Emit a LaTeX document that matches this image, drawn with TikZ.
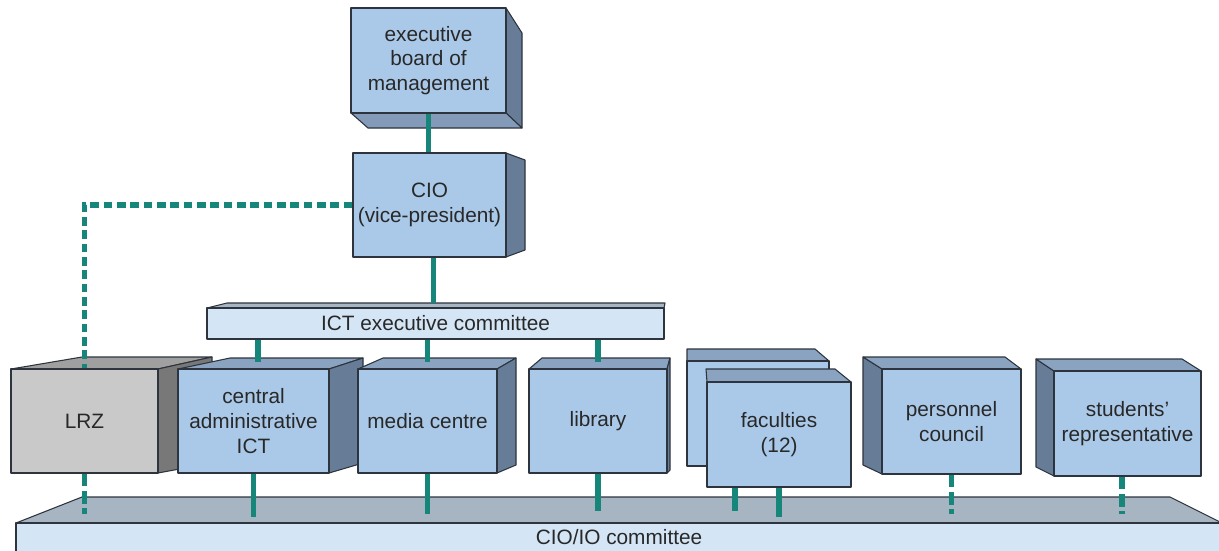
\documentclass[tikz,border=0pt]{standalone}
\usepackage{fontspec}
\setmainfont{Liberation Sans}
\usetikzlibrary{calc}

\definecolor{frontblue}{RGB}{170,201,232}
\definecolor{sideblue}{RGB}{103,125,151}
\definecolor{topblue}{RGB}{138,163,192}
\definecolor{barfront}{RGB}{212,230,246}
\definecolor{bartop}{RGB}{167,181,195}
\definecolor{grayfront}{RGB}{201,201,201}
\definecolor{graytop}{RGB}{160,160,160}
\definecolor{grayside}{RGB}{120,120,120}
\definecolor{edge}{RGB}{45,52,62}
\definecolor{linkteal}{RGB}{22,134,122}
\definecolor{txt}{RGB}{40,40,40}

\newcommand\orgfont{\fontsize{15.6}{18.5}\selectfont}
% front face of a block: [options]{x1}{y1}{x2}{y2}{name}{text}
\newcommand\frontbox[7][]{%
  \node[front,#1,minimum width={(#4-#2)*0.75pt},minimum height={(#5-#3)*0.75pt}]
    (#6) at ({(#2+#4)/2},{(#3+#5)/2}) {#7};}

\begin{document}
\begin{tikzpicture}[x=0.75pt,y=-0.75pt,
  face/.style={draw=edge,line width=0.8pt,line join=round},
  sideface/.style={face,fill=sideblue},
  topface/.style={face,fill=topblue},
  front/.style={face,fill=frontblue,text=txt,align=center,inner sep=0pt,font=\orgfont},
  link/.style={draw=linkteal,line width=4.3pt},
  dlink/.style={link,dash pattern=on 6.5pt off 3.5pt},
  dlinklow/.style={link,dash pattern=on 9.5pt off 3.5pt}]
\useasboundingbox (0,0) rectangle (1219,550);
\clip (0,0) rectangle (1219,550);

% CIO/IO committee slab
\draw[face,fill=bartop] (16,523) -- (82,497) -- (1170,497) -- (1222,523) -- cycle;
\frontbox[fill=barfront]{16}{523}{1222}{559}{cioio}{}
\node[text=txt,font=\orgfont,inner sep=0pt] (cioiolabel) at (619,537) {CIO/IO committee};

% ICT executive committee slab
\draw[face,fill=bartop] (207,308) -- (227,303) -- (665,303) -- (664,308) -- cycle;
\frontbox[fill=barfront]{207}{308}{664}{339}{ict}{ICT executive committee}

% executive board of management
\draw[sideface] (506,8) -- (522,33) -- (522,128) -- (506,113) -- cycle;
\draw[sideface,fill=topblue!80!sideblue] (351,113) -- (368,128) -- (522,128) -- (506,113) -- cycle;
\frontbox{351}{8}{506}{113}{exec}{executive\\board of\\management}

% CIO
\draw[sideface] (506,153) -- (525,160) -- (525,250) -- (506,257) -- cycle;
\frontbox{353}{153}{506}{257}{cio}{CIO\\(vice-president)}

% LRZ
\draw[face,fill=graytop] (11,369) -- (82,357) -- (212,357) -- (158,369) -- cycle;
\draw[face,fill=grayside] (158,369) -- (212,357) -- (212,463) -- (158,473) -- cycle;
\frontbox[fill=grayfront]{11}{369}{158}{473}{lrz}{LRZ}

% central administrative ICT
\draw[topface] (178,369) -- (230,358) -- (363,358) -- (329,369) -- cycle;
\draw[sideface] (329,369) -- (363,358) -- (363,463) -- (329,473) -- cycle;
\frontbox{178}{369}{329}{473}{central}{central\\administrative\\ICT}

% media centre
\draw[topface] (358,369) -- (383,358) -- (516,358) -- (497,369) -- cycle;
\draw[sideface] (497,369) -- (516,358) -- (516,465) -- (497,473) -- cycle;
\frontbox{358}{369}{497}{473}{media}{media centre}

% library
\draw[topface] (529,369) -- (542,358) -- (670,358) -- (667,369) -- cycle;
\draw[sideface] (667,369) -- (670,358) -- (670,470) -- (667,473) -- cycle;
\frontbox{529}{369}{667}{473}{library}{library}

% faculties (stacked blocks)
\draw[topface] (687,361) -- (687,349) -- (815,349) -- (829,361) -- cycle;
\frontbox{687}{361}{829}{466}{facback}{}
\draw[topface] (707,382) -- (706,369) -- (835,369) -- (851,382) -- cycle;
\frontbox{707}{382}{851}{487}{fac}{faculties\\(12)}

% personnel council
\draw[sideface] (882,369) -- (863,357) -- (863,465) -- (882,474) -- cycle;
\draw[topface] (863,357) -- (1005,357) -- (1021,369) -- (882,369) -- cycle;
\frontbox{882}{369}{1021}{474}{personnel}{personnel\\council}

% students' representative
\draw[sideface] (1054,371) -- (1036,359) -- (1036,467) -- (1054,476) -- cycle;
\draw[topface] (1036,359) -- (1182,359) -- (1201,371) -- (1054,371) -- cycle;
\frontbox{1054}{371}{1201}{476}{students}{students'\\representative}

% connector end levels
\coordinate (ictTop) at (0,303);
\coordinate (rowTop) at (0,362);
\coordinate (footA) at (0,514);
\coordinate (footB) at (0,517);
\coordinate (footC) at (0,511);

% connectors
\draw[link] (exec.south) -- (exec.south |- cio.north);
\draw[link] ([xshift=3pt]cio.south) -- ([xshift=3pt]cio.south |- ictTop);
\draw[dlink] (cio.west) -| (lrz.north);

\draw[link] ([xshift=3.4pt]central.north |- ict.south) -- ([xshift=3.4pt]central.north |- rowTop);
\draw[link] (media.north |- ict.south) -- (media.north |- rowTop);
\draw[link] (library.north |- ict.south) -- (library.north |- rowTop);

\draw[dlinklow] (lrz.south) -- (lrz.south |- footA);
\draw[link] (central.south) -- (central.south |- footB);
\draw[link] (media.south) -- (media.south |- footA);
\draw[link] (library.south) -- (library.south |- footC);
\draw[link] ([xshift=-33pt]fac.south) -- ([xshift=-33pt]fac.south |- footC);
\draw[link] (fac.south) -- (fac.south |- footB);
\draw[dlinklow] (personnel.south) -- (personnel.south |- footA);
\draw[dlinklow] ([xshift=-4pt]students.south) -- ([xshift=-4pt]students.south |- footA);
\end{tikzpicture}
\end{document}
